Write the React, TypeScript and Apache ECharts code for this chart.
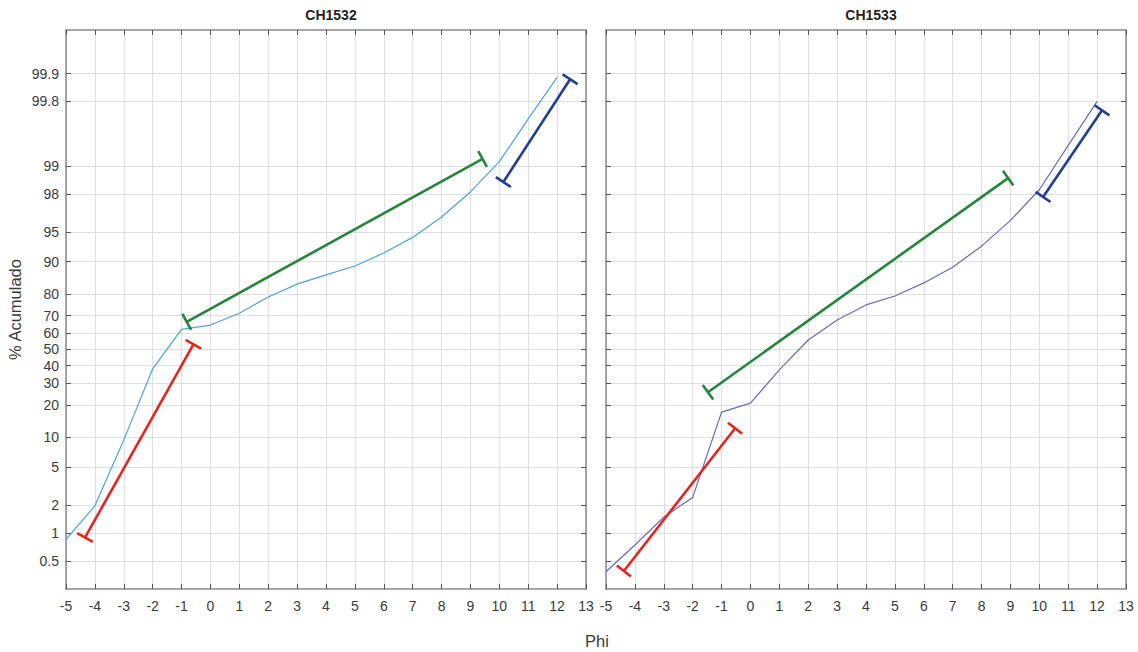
import React, { useEffect, useRef } from "react";
import * as echarts from "echarts";

const PHI = [-5, -4, -3, -2, -1, 0, 1, 2, 3, 4, 5, 6, 7, 8, 9, 10, 11, 12];
const CH1532_PCT = [0.85, 1.95, 9.4, 38, 62.3, 64.8, 71.2, 78.8, 83.7, 86.6, 89, 91.8, 94.3, 96.5, 98.1, 99.1, 99.69, 99.89];
const CH1533_PCT = [0.38, 0.74, 1.48, 2.4, 17.2, 20.7, 37.5, 55.9, 67.6, 75.3, 79.2, 84.1, 88.7, 93, 96.2, 98.2, 99.4, 99.8];

const TICK_PCT = [0.5, 1, 2, 5, 10, 20, 30, 40, 50, 60, 70, 80, 90, 95, 98, 99, 99.8, 99.9];
const TICK_LABELS = ["0.5", "1", "2", "5", "10", "20", "30", "40", "50", "60", "70", "80", "90", "95", "98", "99", "99.8", "99.9"];

// fitted segments: [phi1, pct1, phi2, pct2]
const SEG1_RED = [-4.34, 0.893, -0.59, 53.2];
const SEG1_GREEN = [-0.82, 66.6, 9.42, 99.16];
const SEG1_BLUE = [10.14, 98.51, 12.45, 99.885];
const SEG2_RED = [-4.38, 0.387, -0.53, 12.2];
const SEG2_GREEN = [-1.47, 25.5, 8.92, 98.65];
const SEG2_BLUE = [10.13, 97.85, 12.17, 99.75];

const TITLES = ["CH1532", "CH1533"];

const logit = (pct: number) => {
  const p = pct / 100;
  return Math.log(p / (1 - p));
};

const FONT = "'Liberation Sans', Arial, Helvetica, sans-serif";
const AXIS_COLOR = "#8a8a8a";
const LABEL_COLOR = "#3a3a3a";
const GRID_COLOR = "#dedede";

export default function App() {
  const ref = useRef<HTMLDivElement>(null);
  useEffect(() => {
    if (!ref.current) return;
    const chart = echarts.init(ref.current, undefined, { renderer: "svg" });
    const tickVals = TICK_PCT.map(logit);
    const fmtY = (v: number) => {
      let best = 0;
      let bd = Infinity;
      tickVals.forEach((t, i) => {
        const d = Math.abs(t - v);
        if (d < bd) {
          bd = d;
          best = i;
        }
      });
      return TICK_LABELS[best];
    };
    const grids = [
      { left: 66, top: 30, width: 520, height: 559 },
      { left: 606, top: 30, width: 520, height: 559 },
    ];
    const xAxes: any[] = [];
    const yAxes: any[] = [];
    grids.forEach((_, gi) => {
      xAxes.push({
        type: "value",
        gridIndex: gi,
        min: -5,
        max: 13,
        interval: 1,
        position: "bottom",
        axisLine: { show: true, onZero: false, lineStyle: { color: AXIS_COLOR, width: 1.5 } },
        axisTick: { show: true, inside: true, length: 5, lineStyle: { color: "#555" } },
        axisLabel: { color: LABEL_COLOR, fontSize: 14, fontFamily: FONT, margin: 10 },
        splitLine: { show: true, lineStyle: { color: GRID_COLOR, width: 1 } },
      });
      xAxes.push({
        type: "value",
        gridIndex: gi,
        min: -5,
        max: 13,
        interval: 1,
        position: "top",
        axisLine: { show: true, onZero: false, lineStyle: { color: AXIS_COLOR, width: 1.5 } },
        axisTick: { show: true, inside: true, length: 5, lineStyle: { color: "#555" } },
        axisLabel: { show: false },
        splitLine: { show: false },
      });
      yAxes.push({
        type: "value",
        gridIndex: gi,
        min: -6,
        max: 8,
        position: "left",
        axisLine: { show: true, onZero: false, lineStyle: { color: AXIS_COLOR, width: 1.5 } },
        axisTick: { show: true, inside: true, length: 5, customValues: tickVals, lineStyle: { color: "#555" } },
        axisLabel: {
          show: gi === 0,
          customValues: tickVals,
          formatter: fmtY,
          color: LABEL_COLOR,
          fontSize: 14,
          fontFamily: FONT,
          margin: 7,
        },
        splitLine: { show: true, lineStyle: { color: GRID_COLOR, width: 1 } },
        name: gi === 0 ? "% Acumulado" : "",
        nameLocation: "middle",
        nameGap: 43,
        nameRotate: 90,
        nameTextStyle: { color: LABEL_COLOR, fontSize: 16.5, fontFamily: FONT },
      });
      yAxes.push({
        type: "value",
        gridIndex: gi,
        min: -6,
        max: 8,
        position: "right",
        axisLine: { show: true, onZero: false, lineStyle: { color: AXIS_COLOR, width: 1.5 } },
        axisTick: { show: true, inside: true, length: 5, customValues: tickVals, lineStyle: { color: "#555" } },
        axisLabel: { show: false, customValues: tickVals },
        splitLine: { show: false },
      });
    });

    const segSeries = (seg: number[], color: string, gi: number) => ({
      type: "custom",
      xAxisIndex: gi * 2,
      yAxisIndex: gi * 2,
      encode: { x: [0, 2], y: [1, 3] },
      data: [[seg[0], logit(seg[1]), seg[2], logit(seg[3])]],
      renderItem: (params: any, api: any) => {
        const p1 = api.coord([api.value(0), api.value(1)]);
        const p2 = api.coord([api.value(2), api.value(3)]);
        const dx = p2[0] - p1[0];
        const dy = p2[1] - p1[1];
        const L = Math.hypot(dx, dy) || 1;
        const h = 9;
        const nx = (-dy / L) * h;
        const ny = (dx / L) * h;
        const style = { stroke: color, lineWidth: 2.6, fill: null };
        return {
          type: "group",
          children: [
            { type: "line", shape: { x1: p1[0], y1: p1[1], x2: p2[0], y2: p2[1] }, style },
            { type: "line", shape: { x1: p1[0] - nx, y1: p1[1] - ny, x2: p1[0] + nx, y2: p1[1] + ny }, style },
            { type: "line", shape: { x1: p2[0] - nx, y1: p2[1] - ny, x2: p2[0] + nx, y2: p2[1] + ny }, style },
          ],
        };
      },
      silent: true,
      z: 5,
    });

    const RED = "#e8231e";
    const GREEN = "#23863a";
    const BLUE = "#213e96";

    const option: any = {
      animation: false,
      backgroundColor: "#ffffff",
      title: TITLES.map((t, i) => ({
        text: t,
        left: grids[i].left + grids[i].width / 2,
        top: 3,
        textAlign: "center",
        textStyle: { fontSize: 14, fontWeight: "bold", color: "#222", fontFamily: FONT },
      })),
      grid: grids,
      xAxis: xAxes,
      yAxis: yAxes,
      graphic: [
        {
          type: "text",
          left: 585,
          top: 632,
          style: { text: "Phi", fill: LABEL_COLOR, font: `16.5px ${FONT}` },
        },
      ],
      series: [
        {
          type: "line",
          xAxisIndex: 0,
          yAxisIndex: 0,
          data: PHI.map((x, i) => [x, logit(CH1532_PCT[i])]),
          showSymbol: false,
          lineStyle: { color: "#4aa3dc", width: 1.2 },
          z: 4,
        },
        {
          type: "line",
          xAxisIndex: 2,
          yAxisIndex: 2,
          data: PHI.map((x, i) => [x, logit(CH1533_PCT[i])]),
          showSymbol: false,
          lineStyle: { color: "#6668c2", width: 1.2 },
          z: 4,
        },
        segSeries(SEG1_RED, RED, 0),
        segSeries(SEG1_GREEN, GREEN, 0),
        segSeries(SEG1_BLUE, BLUE, 0),
        segSeries(SEG2_RED, RED, 1),
        segSeries(SEG2_GREEN, GREEN, 1),
        segSeries(SEG2_BLUE, BLUE, 1),
      ],
    };
    chart.setOption(option);
    return () => chart.dispose();
  }, []);
  return (
    <div
      ref={ref}
      style={{ position: "fixed", left: 0, top: 0, width: 1138, height: 652, background: "#fff" }}
    />
  );
}
